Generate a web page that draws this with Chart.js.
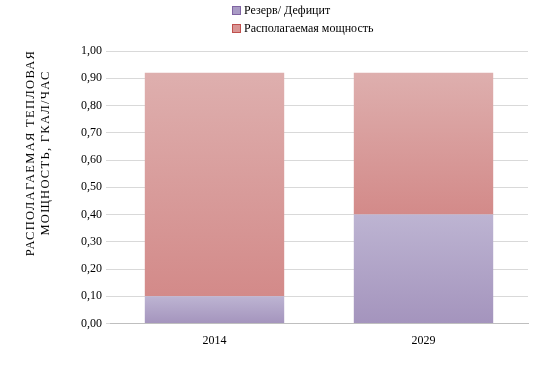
<!DOCTYPE html>
<html>
<head>
<meta charset="utf-8">
<script src="https://cdn.jsdelivr.net/npm/chart.js@4/dist/chart.umd.min.js"></script>
<style>
    body { margin: 0; background: #fff; }
    .wrap { position: relative; width: 540px; height: 369px; font-family: "Liberation Serif", "Times New Roman", serif; }
    .legend { position: absolute; left: 232px; top: 1px; font-size: 12px; color: #000; line-height: 18px; }
    .legend div { display: flex; align-items: center; }
    .legend span.box { display: inline-block; width: 7px; height: 7px; margin-right: 3px; }
    .ytitle { position: absolute; left: 38px; top: 153px; width: 260px; transform: translate(-50%, -50%) rotate(-90deg);
        text-align: center; font-size: 12.5px; letter-spacing: 1.3px; line-height: 15px; color: #000; text-transform: uppercase; }
</style>
</head>
<body>
<div class="wrap">
    <canvas id="chart" width="540" height="369"></canvas>
    <div class="legend" id="legend"></div>
    <div class="ytitle">Располагаемая тепловая<br>мощность, Гкал/час</div>
</div>
<script>
// --- Data ---
const years = ['2014', '2029'];
const reserve = [0.10, 0.40];
const available = [0.82, 0.52];
const seriesNames = ['Резерв/ Дефицит', 'Располагаемая мощность'];
const yTicks = [0, 0.1, 0.2, 0.3, 0.4, 0.5, 0.6, 0.7, 0.8, 0.9, 1.0];

// --- Colors (top / bottom of gradient) ---
const purple = { top: '#bdb4d2', bottom: '#a494bd', box: '#a99bc5', edge: '#8064a2' };
const red = { top: '#deafae', bottom: '#d38a89', box: '#d99594', edge: '#c0504d' };

// gradient per bar, from its base to its top
function barGradient(palette, baseArr) {
    return (ctx) => {
        const chart = ctx.chart;
        const y = chart.scales.y;
        if (!chart.chartArea || !y || ctx.type !== 'data') return palette.box;
        const i = ctx.dataIndex;
        const base = baseArr ? baseArr[i] : 0;
        const val = ctx.dataset.data[i];
        const y0 = y.getPixelForValue(base);
        const y1 = y.getPixelForValue(base + val);
        if (!isFinite(y0) || !isFinite(y1) || y0 === y1) return palette.box;
        const g = chart.ctx.createLinearGradient(0, y1, 0, y0);
        g.addColorStop(0, palette.top);
        g.addColorStop(1, palette.bottom);
        return g;
    };
}

// --- Legend (HTML) ---
const legendEl = document.getElementById('legend');
[purple, red].forEach((p, i) => {
    const row = document.createElement('div');
    row.innerHTML = `<span class="box" style="background:${p.box};border:1px solid ${p.edge};"></span>${seriesNames[i]}`;
    legendEl.appendChild(row);
});

// --- Chart ---
const ctx = document.getElementById('chart').getContext('2d');
new Chart(ctx, {
    type: 'bar',
    data: {
        labels: years,
        datasets: [
            { label: seriesNames[0], data: reserve, backgroundColor: barGradient(purple, null), borderWidth: 0, barPercentage: 0.667, categoryPercentage: 1 },
            { label: seriesNames[1], data: available, backgroundColor: barGradient(red, reserve), borderWidth: 0, barPercentage: 0.667, categoryPercentage: 1 }
        ]
    },
    options: {
        responsive: false,
        animation: false,
        layout: { padding: { left: 77, right: 12, top: 51, bottom: 19 } },
        scales: {
            x: {
                stacked: true,
                grid: { display: false },
                border: { display: true, color: '#bfbfbf', width: 1 },
                ticks: { color: '#000', font: { family: 'Liberation Serif', size: 12 }, padding: 2 }
            },
            y: {
                stacked: true,
                min: 0,
                max: 1,
                afterBuildTicks: (axis) => { axis.ticks = yTicks.map(v => ({ value: v })); },
                grid: { color: '#d9d9d9', tickLength: 4, drawTicks: true },
                border: { display: false },
                ticks: {
                    color: '#000',
                    padding: 4,
                    font: { family: 'Liberation Serif', size: 12 },
                    callback: v => v.toFixed(2).replace('.', ',')
                }
            }
        },
        plugins: {
            legend: { display: false },
            tooltip: { enabled: false }
        }
    }
});
</script>
</body>
</html>
